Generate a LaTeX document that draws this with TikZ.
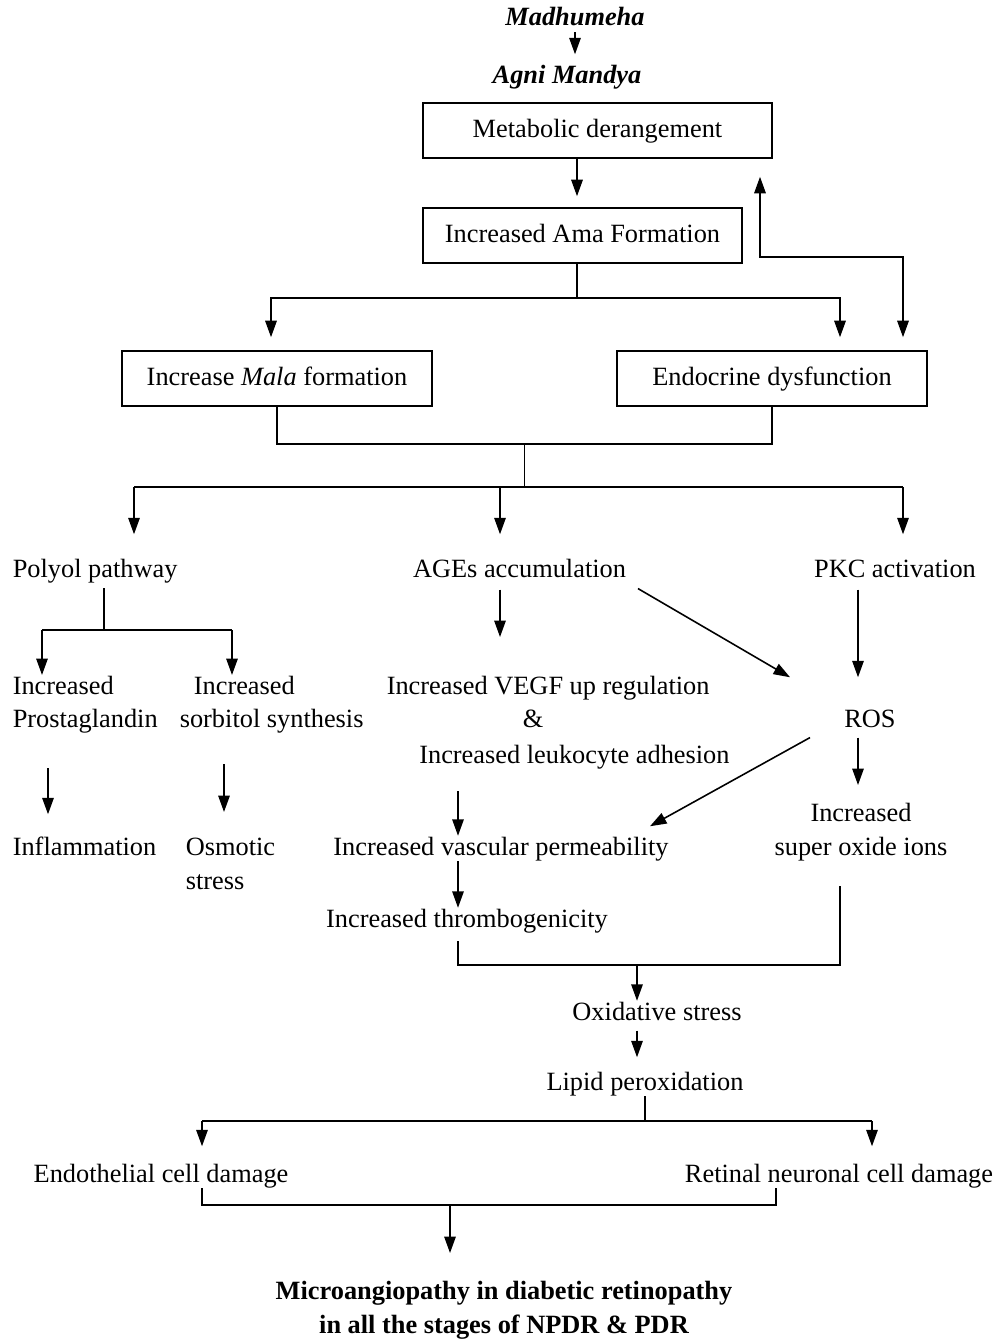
\documentclass[tikz,border=0pt]{standalone}
\usepackage{fontspec}
\setmainfont{Liberation Serif}
\usetikzlibrary{arrows.meta,calc}

\begin{document}
\begin{tikzpicture}[x=0.02cm,y=-0.02cm,
  font=\fontsize{15}{19.3}\selectfont,
  line width=0.9pt,
  arr/.style={-{Triangle[length=0.33cm,width=0.23cm]}},
  dbl/.style={{Triangle[length=0.33cm,width=0.23cm]}-{Triangle[length=0.33cm,width=0.23cm]}},
  box/.style={draw,line width=0.9pt,minimum height=1.1cm,inner sep=0pt,text height=10.5pt,text depth=3pt},
  txt/.style={inner sep=0pt,text height=10.5pt,text depth=3pt},
  lines/.style={inner sep=0pt,align=#1}]
\useasboundingbox (0,0) rectangle (999,1341);

\node[txt,anchor=base] (madhu) at (575,26) {\bfseries\itshape Madhumeha};
\node[txt,anchor=base] (agni) at (567,84) {\bfseries\itshape Agni Mandya};
\node[box,minimum width=6.98cm] (metab) at (597.5,130.5) {Metabolic derangement};
\node[box,minimum width=6.38cm] (ama) at (582.5,235.5) {Increased Ama Formation};
\node[box,minimum width=6.2cm] (mala) at (277,378.5) {Increase \textit{Mala} formation};
\node[box,minimum width=6.2cm] (endo) at (772,378.5) {Endocrine dysfunction};

\node[txt,anchor=base west] (polyol) at (12,577) {Polyol pathway};
\node[txt,anchor=base] (ages) at (519.5,577) {AGEs accumulation};
\node[txt,anchor=base] (pkc) at (895,577) {PKC activation};
\node[lines=left,anchor=north west] (prost) at (12,675) {Increased\\Prostaglandin};
\node[lines=left,anchor=north west] (sorb) at (179,675) {\hspace*{8pt}Increased\\sorbitol synthesis};
\node[lines=left,anchor=north west] (vegf) at (386,675) {Increased VEGF up regulation\\\hspace*{77.5pt}\&\\[1pt]\hspace*{18.5pt}Increased leukocyte adhesion};
\node[txt,anchor=base] (ros) at (870,727) {ROS};
\node[txt,anchor=base west] (infl) at (12,855) {Inflammation};
\node[lines=left,anchor=north west] (osm) at (185,837) {Osmotic\\stress};
\node[txt,anchor=base] (perm) at (501,855) {Increased vascular permeability};
\node[lines=center,anchor=north] (supx) at (861,802) {Increased\\[0.5pt]super oxide ions};
\node[txt,anchor=base] (thromb) at (467,927) {Increased thrombogenicity};
\node[txt,anchor=base] (oxid) at (657,1020) {Oxidative stress};
\node[txt,anchor=base] (lipid) at (645,1090) {Lipid peroxidation};
\node[txt,anchor=base] (endoth) at (161,1182) {Endothelial cell damage};
\node[txt,anchor=base] (retin) at (839,1182) {Retinal neuronal cell damage};
\node[lines=center,anchor=north,font=\fontsize{15}{19.3}\selectfont\bfseries] (micro) at (504,1280) {Microangiopathy in diabetic retinopathy\\in all the stages of NPDR \& PDR};

\draw[arr,shorten >=0.21cm] (madhu.south) -- (madhu.south |- agni.north);
\draw[arr,shorten >=0.22cm] (metab.south -| 577,0) -- (ama.north -| 577,0);

\coordinate (s1) at (577,298);
\draw (ama.south -| s1) -- (s1);
\draw[arr,shorten >=0.26cm] (s1) -| (mala.north -| 271,0);
\draw[arr,shorten >=0.26cm] (s1) -| (endo.north -| 840,0);
\draw[dbl,shorten <=0.36cm,shorten >=0.26cm] (metab.south -| 760,0) -- ++(0,98) -| (endo.north -| 903,0);

\draw (mala.south) -- ++(0,37) -| (endo.south);
\coordinate (s2) at ($(mala.south)!0.5!(endo.south)+(0,37)$);
\coordinate (t1) at (134,487);
\coordinate (t2) at (500,487);
\coordinate (t3) at (903,487);
\draw (s2) -- (s2 |- t1);
\draw (t1) -- (t3);
\draw[arr,shorten >=0.47cm] (t1) -- (t1 |- polyol.north);
\draw[arr,shorten >=0.47cm] (t2) -- (t2 |- ages.north);
\draw[arr,shorten >=0.47cm] (t3) -- (t3 |- pkc.north);

\coordinate (p0) at (104,630);
\coordinate (pa) at (42,630);
\coordinate (pb) at (232,630);
\draw[shorten <=0.1cm] (polyol.south -| p0) -- (p0);
\draw (pa) -- (pb);
\draw[arr] (pa) -- (pa |- prost.north);
\draw[arr] (pb) -- (pb |- sorb.north);
\draw[arr,shorten <=0.68cm,shorten >=0.43cm] (prost.south -| 48,0) -- (infl.north -| 48,0);
\draw[arr,shorten <=0.6cm,shorten >=0.5cm] (sorb.south -| 224,0) -- (osm.north -| 224,0);

\draw[arr,shorten <=0.13cm,shorten >=0.76cm] (ages.south -| 500,0) -- (vegf.north -| 500,0);
\draw[arr] ([shift={(2.37cm,-0.11cm)}]ages.south) -- ([shift={(-1.6cm,0.61cm)}]ros.north);
\draw[arr,shorten <=0.13cm,shorten >=0.61cm] (pkc.south -| 858,0) -- (ros.north -| 858,0);
\draw[arr] ([shift={(-1.2cm,-0.09cm)}]ros.south) -- ([shift={(2.98cm,0.19cm)}]perm.north);
\draw[arr,shorten <=0.09cm,shorten >=0.34cm] (ros.south -| 858,0) -- (supx.north -| 858,0);
\draw[arr,shorten <=0.42cm] (vegf.south -| 458,0) -- (perm.north -| 458,0);
\draw[arr] (perm.south -| 458,0) -- (thromb.north -| 458,0);

\draw[shorten <=0.16cm,shorten >=0.48cm] (thromb.south -| 458,0) -- ++(0,32) -| (supx.south -| 840,0);
\coordinate (j1) at (637,964);
\draw[arr] (j1) -- (j1 |- oxid.north);
\draw[arr,shorten <=0.09cm,shorten >=0.27cm] (oxid.south -| 637,0) -- (lipid.north -| 637,0);

\coordinate (l0) at (645,1121);
\coordinate (la) at (202,1121);
\coordinate (lb) at (872,1121);
\draw (lipid.south -| l0) -- (l0);
\draw (la) -- (lb);
\draw[arr,shorten >=0.33cm] (la) -- (la |- endoth.north);
\draw[arr,shorten >=0.33cm] (lb) -- (lb |- retin.north);
\draw (endoth.south -| 202,0) -- ++(0,17) -| (retin.south -| 776,0);
\coordinate (j2) at (450,1204);
\draw[arr,shorten >=0.54cm] (j2) -- (j2 |- micro.north);
\end{tikzpicture}
\end{document}
